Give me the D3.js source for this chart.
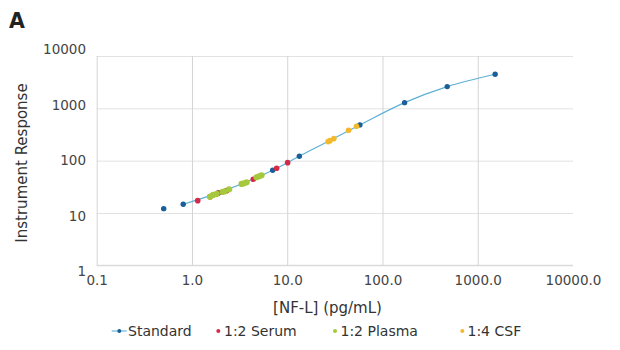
<!DOCTYPE html>
<html><head><meta charset="utf-8">
<script src="https://cdn.jsdelivr.net/npm/d3@7"></script>
<style>body{margin:0;background:#fff}svg{display:block}</style>
</head><body><svg id="c" width="620" height="350"></svg>
<script>
// ---- data ----
const xTicks = [0.1, 1, 10, 100, 1000, 10000];
const xTickLabels = ["0.1", "1.0", "10.0", "100.0", "1000.0", "10000.0"];
const yTicks = [1, 10, 100, 1000, 10000];
const yTickLabels = ["1", "10", "100", "1000", "10000"];

const standardX = [0.505, 0.81, 1.89, 7.03, 13.4, 57.9, 170.6, 478, 1523];
const standardY = [12.1, 14.7, 24.2, 65.5, 121, 482, 1285, 2600, 4487];

const serumX = [1.15, 1.55, 1.89, 2.31, 3.32, 4.40, 7.74, 10.1];
const serumY = [17.2, 20.5, 24.0, 26.7, 35.9, 44.1, 71.6, 91.6];

const plasmaX = [1.55, 1.67, 1.82, 2.10, 2.22, 2.46, 3.32, 3.51, 3.75, 4.77, 5.08, 5.38];
const plasmaY = [20.5, 22.1, 23.1, 25.2, 26.0, 28.4, 35.9, 37.0, 38.6, 48.2, 50.3, 52.6];

const csfX = [26.9, 28.1, 30.9, 44.1, 53.4];
const csfY = [231, 241, 264, 381, 455];

const seriesNames = ["Standard", "1:2 Serum", "1:2 Plasma", "1:4 CSF"];

// ---- layout / style ----
const colStd = "#1b5f98", colLine = "#5bb0d6", colSerum = "#d42a47", colPlasma = "#a6c83c", colCsf = "#f3b82c";
const svg = d3.select("#c");
const font = "DejaVu Sans, Verdana, sans-serif";
const L = 96.7, R = 573, T = 56, B = 265.3;

const x = d3.scaleLog().domain([0.1, 10000]).range([L, R]);
const y = d3.scaleLog().domain([1, 10000]).range([B, T]);
const yLab = d3.scaleLog().domain([1, 10000]).range([271, 49]);

// horizontal grid
svg.append("g").attr("transform", `translate(${L},0)`)
  .call(d3.axisLeft(y).tickValues(yTicks).tickSize(-(R - L)).tickFormat(""))
  .call(g => g.select(".domain").remove())
  .call(g => g.selectAll("line").attr("stroke", "#e2e2e2"));
// vertical grid
svg.append("g").attr("transform", `translate(0,${B})`)
  .call(d3.axisBottom(x).tickValues(xTicks.slice(0, -1)).tickSize(-(B - T)).tickFormat(""))
  .call(g => g.select(".domain").remove())
  .call(g => g.selectAll("line").attr("stroke", "#d4d4d4"));
svg.append("line").attr("x1", L).attr("x2", R).attr("y1", B).attr("y2", B).attr("stroke", "#d6d6d6");

// x tick labels
svg.append("g").attr("transform", `translate(0,${B})`)
  .call(d3.axisBottom(x).tickValues(xTicks).tickSize(0).tickPadding(0)
    .tickFormat((d, i) => xTickLabels[i]))
  .call(g => g.select(".domain").remove())
  .call(g => g.selectAll("text").attr("y", 20).attr("dy", 0)
    .attr("font-family", font).attr("font-size", 13.5).attr("fill", "#444"));

// y tick labels
svg.append("g").attr("transform", `translate(86,0)`)
  .call(d3.axisLeft(y).tickValues(yTicks).tickSize(0).tickPadding(0)
    .tickFormat((d, i) => yTickLabels[i]))
  .call(g => g.select(".domain").remove())
  .call(g => g.selectAll("text").attr("x", 0).attr("y", d => yLab(d) - y(d)).attr("dy", "0.36em")
    .attr("font-family", font).attr("font-size", 13.5).attr("fill", "#444"));

// titles
svg.append("text").attr("x", 9).attr("y", 28.3).text("A")
  .attr("font-family", font).attr("font-weight", "bold").attr("font-size", 20.5).attr("fill", "#222");
svg.append("text").attr("transform", "translate(27,163) rotate(-90)").attr("text-anchor", "middle")
  .text("Instrument Response").attr("font-family", font).attr("font-size", 15).attr("fill", "#333");
svg.append("text").attr("x", 327.5).attr("y", 313).attr("text-anchor", "middle")
  .text("[NF-L] (pg/mL)").attr("font-family", font).attr("font-size", 15).attr("fill", "#333");

// standard curve (excluding blank-level first point)
const curvePts = standardX.map((v, i) => [v, standardY[i]]).slice(1);
svg.append("path").datum(curvePts)
  .attr("d", d3.line().x(d => x(d[0])).y(d => y(d[1])).curve(d3.curveMonotoneX))
  .attr("fill", "none").attr("stroke", colLine).attr("stroke-width", 1.1);

function dots(xs, ys, col, r) {
  svg.append("g").selectAll("circle").data(xs.map((v, i) => [v, ys[i]])).join("circle")
    .attr("cx", d => x(d[0])).attr("cy", d => y(d[1])).attr("r", r).attr("fill", col);
}
dots(standardX, standardY, colStd, 2.7);
dots(serumX, serumY, colSerum, 2.8);
dots(plasmaX, plasmaY, colPlasma, 3.1);
dots(csfX, csfY, colCsf, 2.8);

// legend
const ly = 331;
const lg = svg.append("g").attr("font-family", font).attr("font-size", 14).attr("fill", "#333");
lg.append("line").attr("x1", 111.7).attr("x2", 126.7).attr("y1", ly).attr("y2", ly).attr("stroke", colLine).attr("stroke-width", 1.1);
lg.append("circle").attr("cx", 119.3).attr("cy", ly).attr("r", 2).attr("fill", colStd);
const legendDotX = [null, 218.3, 335, 462.3];
const legendTextX = [128, 224, 340.5, 467.5];
const legendCols = [colStd, colSerum, colPlasma, colCsf];
seriesNames.forEach((n, i) => {
  if (legendDotX[i] !== null) lg.append("circle").attr("cx", legendDotX[i]).attr("cy", ly).attr("r", 2).attr("fill", legendCols[i]);
  lg.append("text").attr("x", legendTextX[i]).attr("y", ly).attr("dy", "0.36em").text(n);
});
</script></body></html>
